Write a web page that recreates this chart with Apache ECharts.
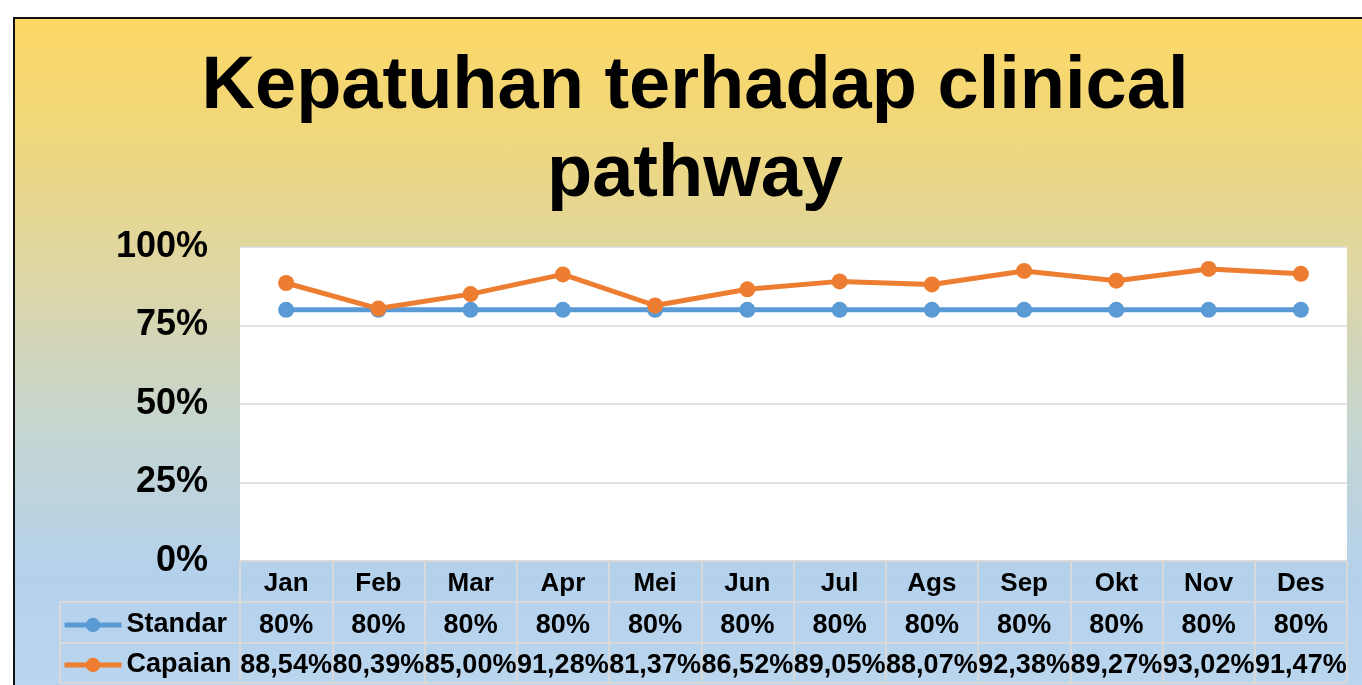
<!DOCTYPE html>
<html>
<head>
<meta charset="utf-8">
<script src="https://cdn.jsdelivr.net/npm/echarts@6/dist/echarts.min.js"></script>
<style>
  html, body { margin: 0; padding: 0; background: #ffffff; }
  #frame {
    position: absolute; left: 13px; top: 17px; width: 1400px; height: 700px;
    border: 2px solid #111; box-sizing: border-box;
    background: linear-gradient(to bottom, #FDD866 0%, #EED77E 18%, #DCD6A8 38%, #C4D5D2 60%, #B4D1EC 80%, #BCD6EE 100%);
  }
  #chart { position: absolute; left: 0; top: 0; width: 1362px; height: 685px; }
</style>
</head>
<body>
<div id="frame"></div>
<div id="chart"></div>
<script>
const titleLines = ['Kepatuhan terhadap clinical', 'pathway'];
const months = ['Jan','Feb','Mar','Apr','Mei','Jun','Jul','Ags','Sep','Okt','Nov','Des'];
const standar = [80,80,80,80,80,80,80,80,80,80,80,80];
const capaian = [88.54,80.39,85.00,91.28,81.37,86.52,89.05,88.07,92.38,89.27,93.02,91.47];
const yTicks = [0,25,50,75,100];
const seriesNames = ['Standar','Capaian'];

const fmtInt = v => v + '%';
const fmtDec = v => v.toFixed(2).replace('.', ',') + '%';
const FONT = 'Liberation Sans, Arial, sans-serif';
const GRID_LINE = '#D9D9D9';

const chart = echarts.init(document.getElementById('chart'), null, { renderer: 'canvas' });

const tableLabel = {
  show: true, interval: 0, color: '#000', fontFamily: FONT, fontWeight: 'bold',
  fontSize: 27, verticalAlign: 'middle', margin: 25
};

chart.setOption({
  backgroundColor: 'transparent',
  animation: false,
  graphic: [{
    type: 'text', x: 695, y: 132, z: 10,
    style: {
      text: titleLines.join('\n'), textAlign: 'center', textVerticalAlign: 'middle',
      fontFamily: FONT, fontWeight: 'bold', fontSize: 74, lineHeight: 88, fill: '#000'
    }
  }],
  legend: {
    orient: 'vertical', left: 62, top: 610, height: 80, padding: 0, itemGap: 10,
    itemWidth: 57, itemHeight: 18,
    data: seriesNames,
    lineStyle: { width: 5 },
    textStyle: { color: '#000', fontFamily: FONT, fontWeight: 'bold', fontSize: 27, lineHeight: 30, padding: [0,0,0,0] }
  },
  grid: [
    { left: 240, right: 15, top: 247, bottom: 124, show: true, backgroundColor: '#ffffff', borderWidth: 0 },
    { left: 240, right: 15, top: 561, height: 122, show: false },
    { left: 60, width: 180, top: 602, height: 81, show: true, borderColor: GRID_LINE, borderWidth: 2, backgroundColor: 'transparent' }
  ],
  xAxis: [
    { type: 'category', gridIndex: 0, data: months, boundaryGap: true,
      axisLine: { show: false }, axisTick: { show: false },
      axisLabel: Object.assign({}, tableLabel, { fontSize: 26, margin: 23 }) },
    { type: 'category', gridIndex: 0, position: 'bottom', offset: 40, data: standar.map(fmtInt),
      axisLine: { show: false }, axisTick: { show: false }, axisLabel: tableLabel },
    { type: 'category', gridIndex: 0, position: 'bottom', offset: 80, data: capaian.map(fmtDec),
      axisLine: { show: false }, axisTick: { show: false }, axisLabel: tableLabel },
    { type: 'category', gridIndex: 1, data: months, boundaryGap: true,
      axisLine: { show: false }, axisTick: { show: false }, axisLabel: { show: false },
      splitLine: { show: true, interval: 0, lineStyle: { color: GRID_LINE, width: 2 } } },
    { type: 'value', gridIndex: 2, show: false }
  ],
  yAxis: [
    { type: 'value', gridIndex: 0, min: 0, max: 100, interval: 25,
      axisLine: { show: false }, axisTick: { show: false },
      axisLabel: { formatter: v => yTicks.includes(v) ? v + '%' : '', color: '#000', fontFamily: FONT,
                   fontWeight: 'bold', fontSize: 36, margin: 32 },
      splitLine: { show: true, lineStyle: { color: GRID_LINE, width: 1.5 } } },
    { type: 'value', gridIndex: 1, min: 0, max: 3, interval: 1,
      axisLine: { show: false }, axisTick: { show: false }, axisLabel: { show: false },
      splitLine: { show: true, lineStyle: { color: GRID_LINE, width: 2 } } },
    { type: 'value', gridIndex: 2, min: 0, max: 2, interval: 1,
      axisLine: { show: false }, axisTick: { show: false }, axisLabel: { show: false },
      splitLine: { show: true, lineStyle: { color: GRID_LINE, width: 2 } } }
  ],
  series: [
    { name: seriesNames[0], type: 'line', xAxisIndex: 0, yAxisIndex: 0, data: standar,
      color: '#5B9BD5', symbol: 'circle', symbolSize: 16, lineStyle: { width: 5 } },
    { name: seriesNames[1], type: 'line', xAxisIndex: 0, yAxisIndex: 0, data: capaian,
      color: '#ED7D31', symbol: 'circle', symbolSize: 16, lineStyle: { width: 5 } }
  ]
});
</script>
</body>
</html>
